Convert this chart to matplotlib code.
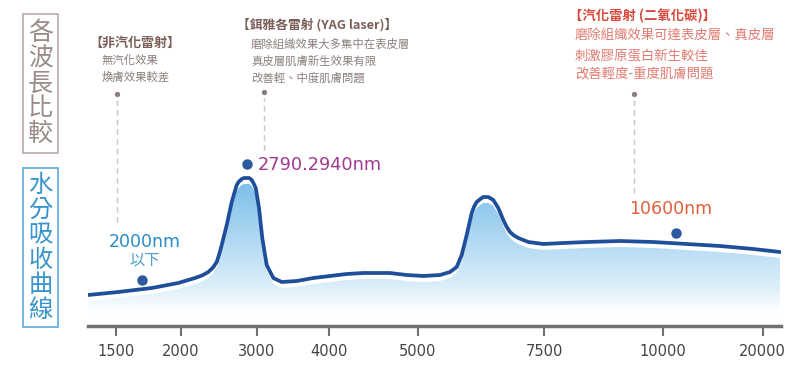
import numpy as np
import matplotlib
matplotlib.use("Agg")
import matplotlib.pyplot as plt
from matplotlib.colors import LinearSegmentedColormap
from matplotlib.patches import Polygon, Rectangle

plt.rcParams['font.family'] = ['Noto Sans CJK TC', 'DejaVu Sans']

# water absorption curve (wavelength nm -> relative absorption)
wavelength = [1290, 1520, 1776, 1979, 2185, 2277, 2361, 2423, 2472, 2506,
              2538, 2604, 2670, 2736, 2766, 2802, 2835, 2868, 2901, 2934,
              2960, 2987, 3032, 3077, 3138, 3230, 3346, 3553, 3783, 4011,
              4199, 4387, 4538, 4687, 4876, 5111, 5441, 5639, 5772, 5871,
              5970, 6069, 6118, 6168, 6233, 6298, 6397, 6496, 6595, 6694,
              6757, 6827, 6906, 6991, 7189, 7486, 7905, 8395, 9093, 9791,
              12354, 15704, 19054, 21742]
absorption = [31, 34, 38, 43, 48, 50.5, 54, 58.5, 64, 72,
              81, 101, 124, 141, 144.5, 147, 148, 148, 148, 146,
              142.5, 138, 118, 88, 61, 48, 44, 45, 48, 50,
              52, 53, 53, 53, 51, 50, 51, 54, 59, 71,
              91, 113, 119.5, 124, 126.7, 129, 129, 126, 118, 106,
              99.5, 94, 90.5, 88, 84, 82, 83, 84, 85, 84,
              82, 80, 77, 74]

tick_values = [1500, 2000, 3000, 4000, 5000, 7500, 10000, 20000]
tick_labels = ['1500', '2000', '3000', '4000', '5000', '7500', '10000', '20000']

# highlighted laser wavelengths
mark_wl = [1699, 2870, 11248]
mark_val = [46, 162, 93]
mark_text = ['2000nm', '2790.2940nm', '10600nm']

# leader lines for the three description blocks
lead_wl = [1510, 3100, 9380]
lead_top = [232, 234, 232]
lead_bottom = [104, 176, 133]

# the x axis is not linear: pin each tick to its place along the axis
anchor_wl = [500] + tick_values + [30000]
anchor_px = [-15, 115.7, 181, 256.7, 329, 417.7, 544, 663.3, 762.7, 862]


def fwd(x):
    return np.interp(x, anchor_wl, anchor_px)


def inv(p):
    return np.interp(p, anchor_px, anchor_wl)


W, H = 800, 374
fig = plt.figure(figsize=(8, 3.74), dpi=100)
ax = fig.add_axes([88 / W, 48 / H, (781 - 88) / W, 326 / H])
ax.set_xscale('function', functions=(fwd, inv))
ax.set_xlim(1288, 21843)
ax.set_ylim(0, 326)

# gradient fill under the curve, shifted a bit below the line
cmap = LinearSegmentedColormap.from_list('water', [
    (0.0, '#ffffff'), (0.08, '#ffffff'), (0.25, '#dbeefa'),
    (0.52, '#b4daf3'), (1.0, '#6db7e6')])
grad = np.linspace(326, 0, 400)[:, None] / 160.0
grad = np.clip(grad, 0, 1)
im = ax.imshow(grad, extent=[0, 1, 0, 1], transform=ax.transAxes,
               aspect='auto', cmap=cmap, vmin=0, vmax=1, zorder=1)
wl = np.array(wavelength)
ab = np.array(absorption)
verts = np.column_stack([np.r_[wl, wl[::-1]], np.r_[ab - 6, np.zeros_like(ab)]])
clip = Polygon(verts, closed=True, transform=ax.transData, facecolor='none',
               edgecolor='none')
ax.add_patch(clip)
im.set_clip_path(clip)
ax.set_xlim(1288, 21843)
ax.set_ylim(0, 326)

ax.plot(wavelength, absorption, color='#1f4f9a', lw=2.7, zorder=3,
        solid_joinstyle='round', solid_capstyle='round')
ax.plot(mark_wl, mark_val, 'o', color='#2c5a9e', ms=6.5, zorder=4, clip_on=False)

mark_colors = ['#2a8cc4', '#a03a90', '#e0603a']
ax.text(1720, 84, mark_text[0], color=mark_colors[0], fontsize=12.5,
        family='DejaVu Sans', ha='center', va='center')
ax.text(1720, 66, '以下', color='#4a9ccc', fontsize=11,
        ha='center', va='center')
ax.text(3020, 161, mark_text[1], color=mark_colors[1], fontsize=12.8,
        family='DejaVu Sans', ha='left', va='center')
ax.text(10770, 117, mark_text[2], color=mark_colors[2], fontsize=12.5,
        family='DejaVu Sans', ha='center', va='center')

for x, t, b in zip(lead_wl, lead_top, lead_bottom):
    ax.plot([x, x], [b, t - 6], color='#c6c6c6', lw=1, ls=(0, (4, 3)),
            zorder=2, clip_on=False)
    ax.plot([x], [t], 'o', color='#8a7f7c', ms=2.8, zorder=2, clip_on=False)

# axis styling
for s in ['top', 'right', 'left']:
    ax.spines[s].set_visible(False)
ax.spines['bottom'].set_color('#707070')
ax.spines['bottom'].set_linewidth(2.5)
ax.set_yticks([])
ax.set_xticks(tick_values)
ax.set_xticklabels(tick_labels, family='DejaVu Sans', fontsize=10.5,
                   color='#444444')
ax.xaxis.set_minor_locator(matplotlib.ticker.NullLocator())
ax.tick_params(axis='x', direction='out', length=7, width=1.5,
               colors='#707070', labelcolor='#444444', pad=6)
ax.patch.set_alpha(0)


def fx(x):
    return x / W


def fy(y):
    return 1 - y / H


# left boxed vertical titles
fig.patches.append(Rectangle((fx(23), fy(153)), 35 / W, 139 / H,
                             transform=fig.transFigure, fill=False,
                             edgecolor='#b9aba7', lw=1.2))
fig.text(fx(40.5), fy(83.5), '\n'.join('各波長比較'), color='#9a8c89',
         fontsize=18, fontweight='light', ha='center', va='center',
         linespacing=0.95)
fig.patches.append(Rectangle((fx(23), fy(327)), 35 / W, 159 / H,
                             transform=fig.transFigure, fill=False,
                             edgecolor='#5aaad8', lw=1.2))
fig.text(fx(40.5), fy(247.5), '\n'.join('水分吸收曲線'), color='#3894cc',
         fontsize=17.5, fontweight='light', ha='center', va='center',
         linespacing=0.95)

# description blocks
fig.text(fx(89), fy(43), '【非汽化雷射】', color='#7a5e58', fontsize=9.4,
         fontweight='bold', ha='left', va='center')
for i, s in enumerate(['無汽化效果', '煥膚效果較差']):
    fig.text(fx(102), fy(60 + 17 * i), s, color='#8a807e', fontsize=8.2,
             ha='left', va='center')

fig.text(fx(237), fy(25), '【鉺雅各雷射 (YAG laser)】', color='#7a5e58',
         fontsize=9.2, fontweight='bold', ha='left', va='center')
for i, s in enumerate(['磨除組織效果大多集中在表皮層', '真皮層肌膚新生效果有限',
                       '改善輕、中度肌膚問題']):
    fig.text(fx(251), fy(44 + 17 * i), s, color='#8a807e', fontsize=8.2,
             ha='left', va='center')

fig.text(fx(569), fy(16), '【汽化雷射 (二氧化碳)】', color='#d8473a',
         fontsize=9.6, fontweight='bold', ha='left', va='center')
for i, s in enumerate(['磨除組織效果可達表皮層、真皮層', '刺激膠原蛋白新生較佳',
                       '改善輕度-重度肌膚問題']):
    fig.text(fx(575), fy(36 + 19 * i), s, color='#e07a70', fontsize=9.6,
             ha='left', va='center')

fig.savefig('out.png', dpi=100, facecolor='white')
